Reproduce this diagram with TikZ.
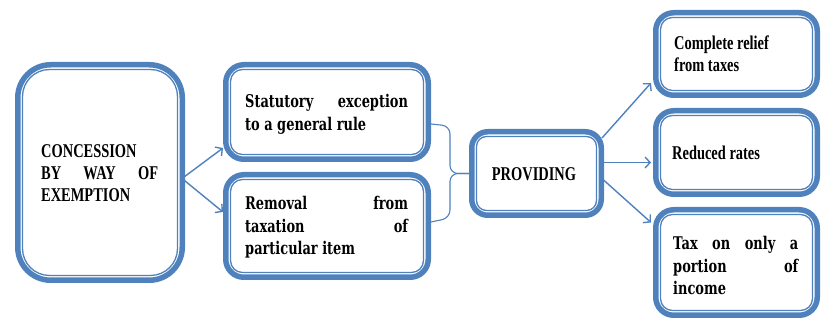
\documentclass[tikz,border=0pt]{standalone}
\usepackage{fontspec}
\usepackage{graphicx}
\setmainfont{Liberation Serif}
\newfontfamily\slabfont{DejaVu Serif}
\usetikzlibrary{arrows.meta,calc}

\definecolor{bl}{HTML}{4F81BD}

% narrow, justified text block: width before squeezing, then the lines
\newcommand\sqzblock[2]{\scalebox{0.74}[1]{\parbox[t]{#1}{#2}}}

\tikzset{
  panel/.style={draw=bl, line width=5.5pt, fill=white, rounded corners=#1,
                outer sep=2.75pt, inner sep=0pt},
  panel/.default=18pt,
  innerline/.style={draw=bl, line width=1.3pt},
  conn/.style={draw=bl, line width=1.4pt, -{Straight Barb[length=5pt,width=11pt]}},
  brace/.style={draw=bl, line width=1.1pt, rounded corners=8pt},
  txt/.style={inner sep=0pt, anchor=base west},
  tms/.style={font=\bfseries\fontsize{19.5}{22}\selectfont},
  slab/.style={font=\slabfont\bfseries\fontsize{17.5}{22.5}\selectfont},
}

\begin{document}
\begin{tikzpicture}[x=1pt, y=-1pt]
\useasboundingbox (0,0) rectangle (822,320);

% boxes (centre, size of the outer border path)
\node[panel=33pt, minimum width=164.5pt, minimum height=215.5pt] (a) at (100,172.5) {};
\node[panel, minimum width=202.5pt, minimum height=94.5pt]  (b) at (327,112) {};
\node[panel, minimum width=202.5pt, minimum height=102.5pt] (c) at (327,226) {};
\node[panel=16pt, minimum width=129.5pt, minimum height=83.5pt] (d) at (536.5,173.5) {};
\node[panel, minimum width=161.5pt, minimum height=82.5pt]  (e) at (736.5,54) {};
\node[panel, minimum width=161.5pt, minimum height=83.5pt]  (f) at (736.5,152.5) {};
\node[panel, minimum width=161.5pt, minimum height=105.5pt] (g) at (736.5,262.5) {};

% thin inner border of every box
\foreach \n/\r in {a/27,b/12,c/12,d/10,e/12,f/12,g/12}
  \draw[innerline, rounded corners=\r pt]
    ([shift={(7.5,7.5)}]\n.north west) rectangle ([shift={(-7.5,-7.5)}]\n.south east);

% texts
\node[txt, tms] (ta) at (41,158) {\sqzblock{158pt}{CONCESSION\\ BY\hfill WAY\hfill OF\\ EXEMPTION}};
\node[txt, slab] (tb) at (245,108) {\sqzblock{220pt}{Statutory\hfill exception\\ to a general rule}};
\node[txt, slab] (tc) at (245,210) {\sqzblock{220pt}{Removal\hfill from\\ taxation\hfill of\\ particular item}};
\node[inner sep=0pt, anchor=base, tms, xscale=0.74] (td) at (534,181) {PROVIDING};
\node[txt, tms] (te) at (674,50) {\sqzblock{160pt}{Complete relief\\ from taxes}};
\node[txt, tms] (tf) at (672,160) {\sqzblock{160pt}{Reduced rates}};
\node[txt, slab] (tg) at (673,250) {\sqzblock{169pt}{Tax\hfill on\hfill only\hfill a\\ portion\hfill of\\ income}};

% arrows out of the first box
\draw[conn] ([shift={(-3,6)}]a.east) -- ([shift={(0,36)}]b.west);
\draw[conn] ([shift={(-3,6)}]a.east) -- ([shift={(0,-14)}]c.west);

% curly brace joining the two middle boxes
\coordinate (bx) at ($(b.east)!0.5!(d.west)$);
\draw[brace] ([shift={(0,12)}]b.east) -- ($(bx |- b.east)+(0,14)$) -- (bx |- d.west) -- (d.west);
\draw[brace] ([shift={(0,-4)}]c.east) -- ($(bx |- c.east)+(0,-8)$) -- (bx |- d.west) -- (d.west);

% arrows to the three outcomes
\draw[conn] ([shift={(-2,9)}]d.north east) -- ([shift={(-2,29)}]e.west);
\draw[conn] ([shift={(-1,-11)}]d.east) -- ([shift={(-2,10)}]f.west);
\draw[conn] ([shift={(-1,6)}]d.east) -- ([shift={(-2,-40)}]g.west);
\end{tikzpicture}
\end{document}
